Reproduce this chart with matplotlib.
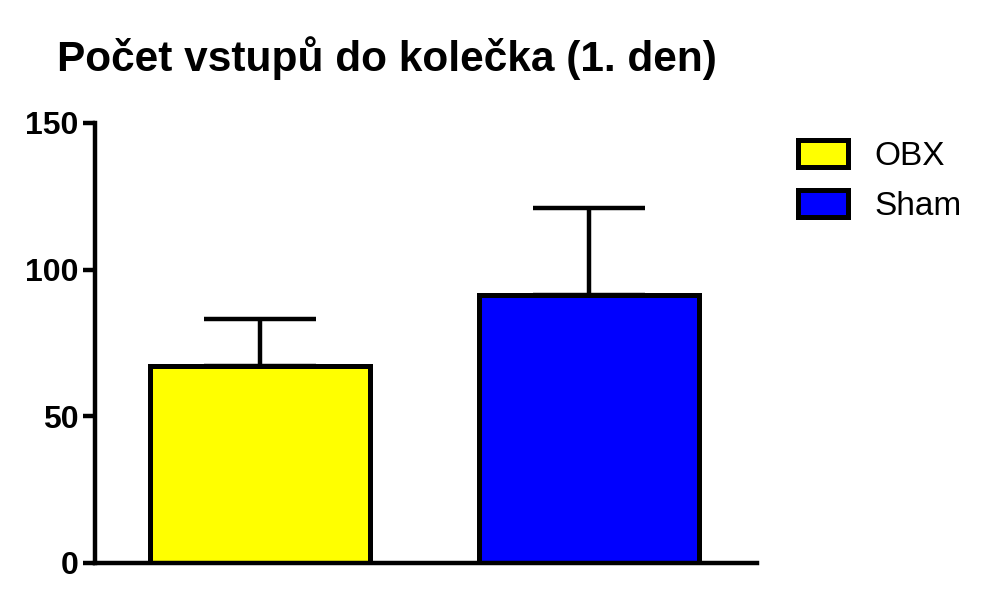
import numpy as np
import matplotlib
matplotlib.use("Agg")
import matplotlib.pyplot as plt

plt.rcParams['font.family'] = ['Liberation Sans', 'DejaVu Sans']

groups = ["OBX", "Sham"]
means = [67.2, 91.3]
errors = [16.1, 29.7]
colors = ["#ffff00", "#0000ff"]
title = "Počet vstupů do kolečka (1. den)"

fig = plt.figure(figsize=(9.97, 5.9), dpi=100)
ax = fig.add_axes([95 / 997, 27 / 590, 662 / 997, 440 / 590])

x = np.arange(len(groups))
for i in range(len(groups)):
    ax.bar(x[i], means[i], width=0.667, color=colors[i], edgecolor="black",
           linewidth=3.6, label=groups[i], zorder=2)
    ax.errorbar(x[i], means[i], yerr=[[0], [errors[i]]], fmt="none",
                ecolor="black", elinewidth=3.2, capsize=40, capthick=3.2,
                zorder=1)

ax.set_xlim(-0.5, 1.51)
ax.set_ylim(0, 150)
ax.set_yticks([0, 50, 100, 150])
ax.set_xticks([])
for s in ["top", "right"]:
    ax.spines[s].set_visible(False)
for s in ["left", "bottom"]:
    ax.spines[s].set_linewidth(3.2)
ax.tick_params(axis="y", length=9, width=3.2, labelsize=23, pad=3)
for lab in ax.get_yticklabels():
    lab.set_fontweight("bold")

leg = fig.legend(*ax.get_legend_handles_labels(), loc="upper left",
                 bbox_to_anchor=(798 / 997, 1 - 140 / 590), frameon=False,
                 fontsize=24, handlelength=1.5, handleheight=0.88,
                 handletextpad=0.8, labelspacing=0.53, borderpad=0,
                 borderaxespad=0)

fig.text(57 / 997, 1 - 71 / 590, title, fontsize=30.5, fontweight="bold",
         ha="left", va="baseline")

fig.savefig("out.png", dpi=100)
